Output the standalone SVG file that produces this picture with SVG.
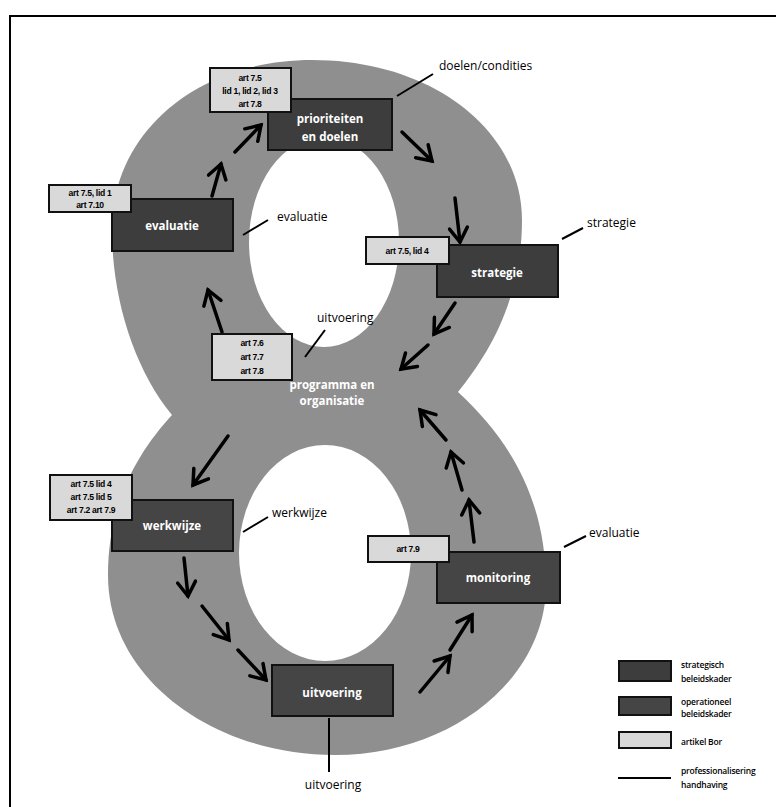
<svg xmlns="http://www.w3.org/2000/svg" width="776" height="807" viewBox="0 0 776 807">
<defs>
<marker id="ah" markerUnits="userSpaceOnUse" markerWidth="22" markerHeight="22" viewBox="0 0 22 22" refX="19" refY="11" orient="auto">
<path d="M5,2 L19,11 L5,20" fill="none" stroke="#000" stroke-width="3.5" stroke-linecap="round" stroke-linejoin="miter"/>
</marker>
</defs>
<style>
.ring{fill:#8f8f8f}
.hole{fill:#fff}
.dark{fill:#3d3d3d;stroke:#111;stroke-width:2}
.dark2{fill:#454545;stroke:#111;stroke-width:2}
.art{fill:#d9d9d9;stroke:#111;stroke-width:2}
.bt{font-family:"Open Sans","DejaVu Sans",sans-serif;font-weight:bold;font-size:11.5px;fill:#fff;text-anchor:middle;dominant-baseline:central}
.at{font-family:"Liberation Sans","DejaVu Sans",sans-serif;font-weight:bold;font-size:8.6px;fill:#000;text-anchor:middle;dominant-baseline:central;letter-spacing:-0.3px}
.lb{font-family:"Open Sans","DejaVu Sans",sans-serif;font-size:12px;fill:#000;dominant-baseline:central}
.lg{font-family:"Open Sans","DejaVu Sans",sans-serif;font-weight:600;font-size:8.5px;fill:#000;dominant-baseline:central;letter-spacing:-0.2px}
.arr{stroke:#000;stroke-width:3.5;fill:none;marker-end:url(#ah);stroke-linecap:round}
.lead{stroke:#000;stroke-width:2;fill:none}
</style>
<rect width="776" height="807" fill="#fff"/>
<path d="M10,807 V16 H776" fill="none" stroke="#000" stroke-width="2"/>

<g id="figure8">
<path class="ring" d="M312,60 C432,60 522,130 522,220 C522,300 488,355 458,392 C510,440 546,500 546,585 C546,680 450,755 335,755 C215,755 108,680 108,575 C108,500 140,450 172,415 C135,370 112,300 112,230 C112,130 200,60 312,60 Z"/>
<ellipse class="hole" cx="324" cy="242" rx="75" ry="105"/>
<ellipse class="hole" cx="325" cy="553" rx="86" ry="108"/>
</g>

<g id="connectors">
<line class="arr" x1="222" y1="332" x2="208" y2="290"/>
<line class="arr" x1="212" y1="196" x2="221" y2="164"/>
<line class="arr" x1="235" y1="152" x2="261" y2="125"/>
<line class="arr" x1="402" y1="132" x2="432" y2="161"/>
<line class="arr" x1="455" y1="198" x2="460" y2="242"/>
<line class="arr" x1="455" y1="303" x2="434" y2="334"/>
<line class="arr" x1="428" y1="345" x2="401" y2="369"/>
<line class="arr" x1="228" y1="436" x2="193" y2="485"/>
<line class="arr" x1="184" y1="558" x2="188" y2="596"/>
<line class="arr" x1="202" y1="606" x2="229" y2="640"/>
<line class="arr" x1="238" y1="650" x2="266" y2="680"/>
<line class="arr" x1="420" y1="692" x2="450" y2="656"/>
<line class="arr" x1="450" y1="650" x2="472" y2="615"/>
<line class="arr" x1="474" y1="542" x2="469" y2="500"/>
<line class="arr" x1="462" y1="490" x2="451" y2="452"/>
<line class="arr" x1="446" y1="440" x2="420" y2="410"/>
<line class="lead" x1="397" y1="96" x2="433" y2="74"/>
<line class="lead" x1="243" y1="235" x2="268" y2="220"/>
<line class="lead" x1="562" y1="239" x2="583" y2="228"/>
<line class="lead" x1="305" y1="357" x2="325" y2="330"/>
<line class="lead" x1="243" y1="532" x2="268" y2="517"/>
<line class="lead" x1="564" y1="547" x2="586" y2="536"/>
<line class="lead" x1="329" y1="718" x2="329" y2="772"/>
</g>

<g id="n-prioriteiten">
<rect class="dark" x="268" y="99" width="124" height="51"/>
<text class="bt" x="330" y="118">prioriteiten</text>
<text class="bt" x="330" y="136">en doelen</text>
</g>
<g id="n-evaluatie">
<rect class="dark" x="112" y="199" width="121" height="52"/>
<text class="bt" x="172" y="225">evaluatie</text>
</g>
<g id="n-strategie">
<rect class="dark" x="437" y="245" width="121" height="52"/>
<text class="bt" x="497" y="272">strategie</text>
</g>
<g id="n-werkwijze">
<rect class="dark2" x="112" y="500" width="121" height="51"/>
<text class="bt" x="172" y="525">werkwijze</text>
</g>
<g id="n-monitoring">
<rect class="dark2" x="437" y="552" width="123" height="51"/>
<text class="bt" x="498" y="577">monitoring</text>
</g>
<g id="n-uitvoering">
<rect class="dark2" x="272" y="665" width="121" height="51"/>
<text class="bt" x="332" y="692">uitvoering</text>
</g>
<g id="n-programma">
<text class="bt" x="332" y="384">programma en</text>
<text class="bt" x="332" y="400">organisatie</text>
</g>

<g id="a-top">
<rect class="art" x="210" y="68" width="81" height="44"/>
<text class="at" x="250" y="78">art 7.5</text>
<text class="at" x="250" y="91">lid 1, lid 2, lid 3</text>
<text class="at" x="250" y="104">art 7.8</text>
</g>
<g id="a-evaluatie">
<rect class="art" x="49" y="185" width="82" height="27"/>
<text class="at" x="90" y="193">art 7.5, lid 1</text>
<text class="at" x="90" y="205">art 7.10</text>
</g>
<g id="a-strategie">
<rect class="art" x="366" y="237" width="83" height="27"/>
<text class="at" x="407" y="251">art 7.5, lid 4</text>
</g>
<g id="a-programma">
<rect class="art" x="212" y="334" width="80" height="46"/>
<text class="at" x="252" y="343">art 7.6</text>
<text class="at" x="252" y="357">art 7.7</text>
<text class="at" x="252" y="371">art 7.8</text>
</g>
<g id="a-werkwijze">
<rect class="art" x="50" y="475" width="82" height="45"/>
<text class="at" x="91" y="484">art 7.5 lid 4</text>
<text class="at" x="91" y="497">art 7.5 lid 5</text>
<text class="at" x="91" y="510">art 7.2 art 7.9</text>
</g>
<g id="a-monitoring">
<rect class="art" x="368" y="536" width="81" height="26"/>
<text class="at" x="408" y="549">art 7.9</text>
</g>

<g id="labels">
<text class="lb" x="439" y="65">doelen/condities</text>
<text class="lb" x="277" y="216">evaluatie</text>
<text class="lb" x="587" y="222">strategie</text>
<text class="lb" x="317" y="317">uitvoering</text>
<text class="lb" x="272" y="512">werkwijze</text>
<text class="lb" x="589" y="532">evaluatie</text>
<text class="lb" x="333" y="784" text-anchor="middle">uitvoering</text>
</g>

<g id="legend">
<rect class="dark" x="619" y="661" width="52" height="20"/>
<text class="lg" x="681" y="664">strategisch</text>
<text class="lg" x="681" y="678">beleidskader</text>
<rect class="dark2" x="619" y="697" width="52" height="18"/>
<text class="lg" x="681" y="701">operationeel</text>
<text class="lg" x="681" y="713">beleidskader</text>
<rect class="art" x="619" y="732" width="52" height="16"/>
<text class="lg" x="681" y="741">artikel Bor</text>
<line class="lead" x1="618" y1="778" x2="671" y2="778"/>
<text class="lg" x="681" y="770">professionalisering</text>
<text class="lg" x="681" y="784">handhaving</text>
</g>
</svg>
